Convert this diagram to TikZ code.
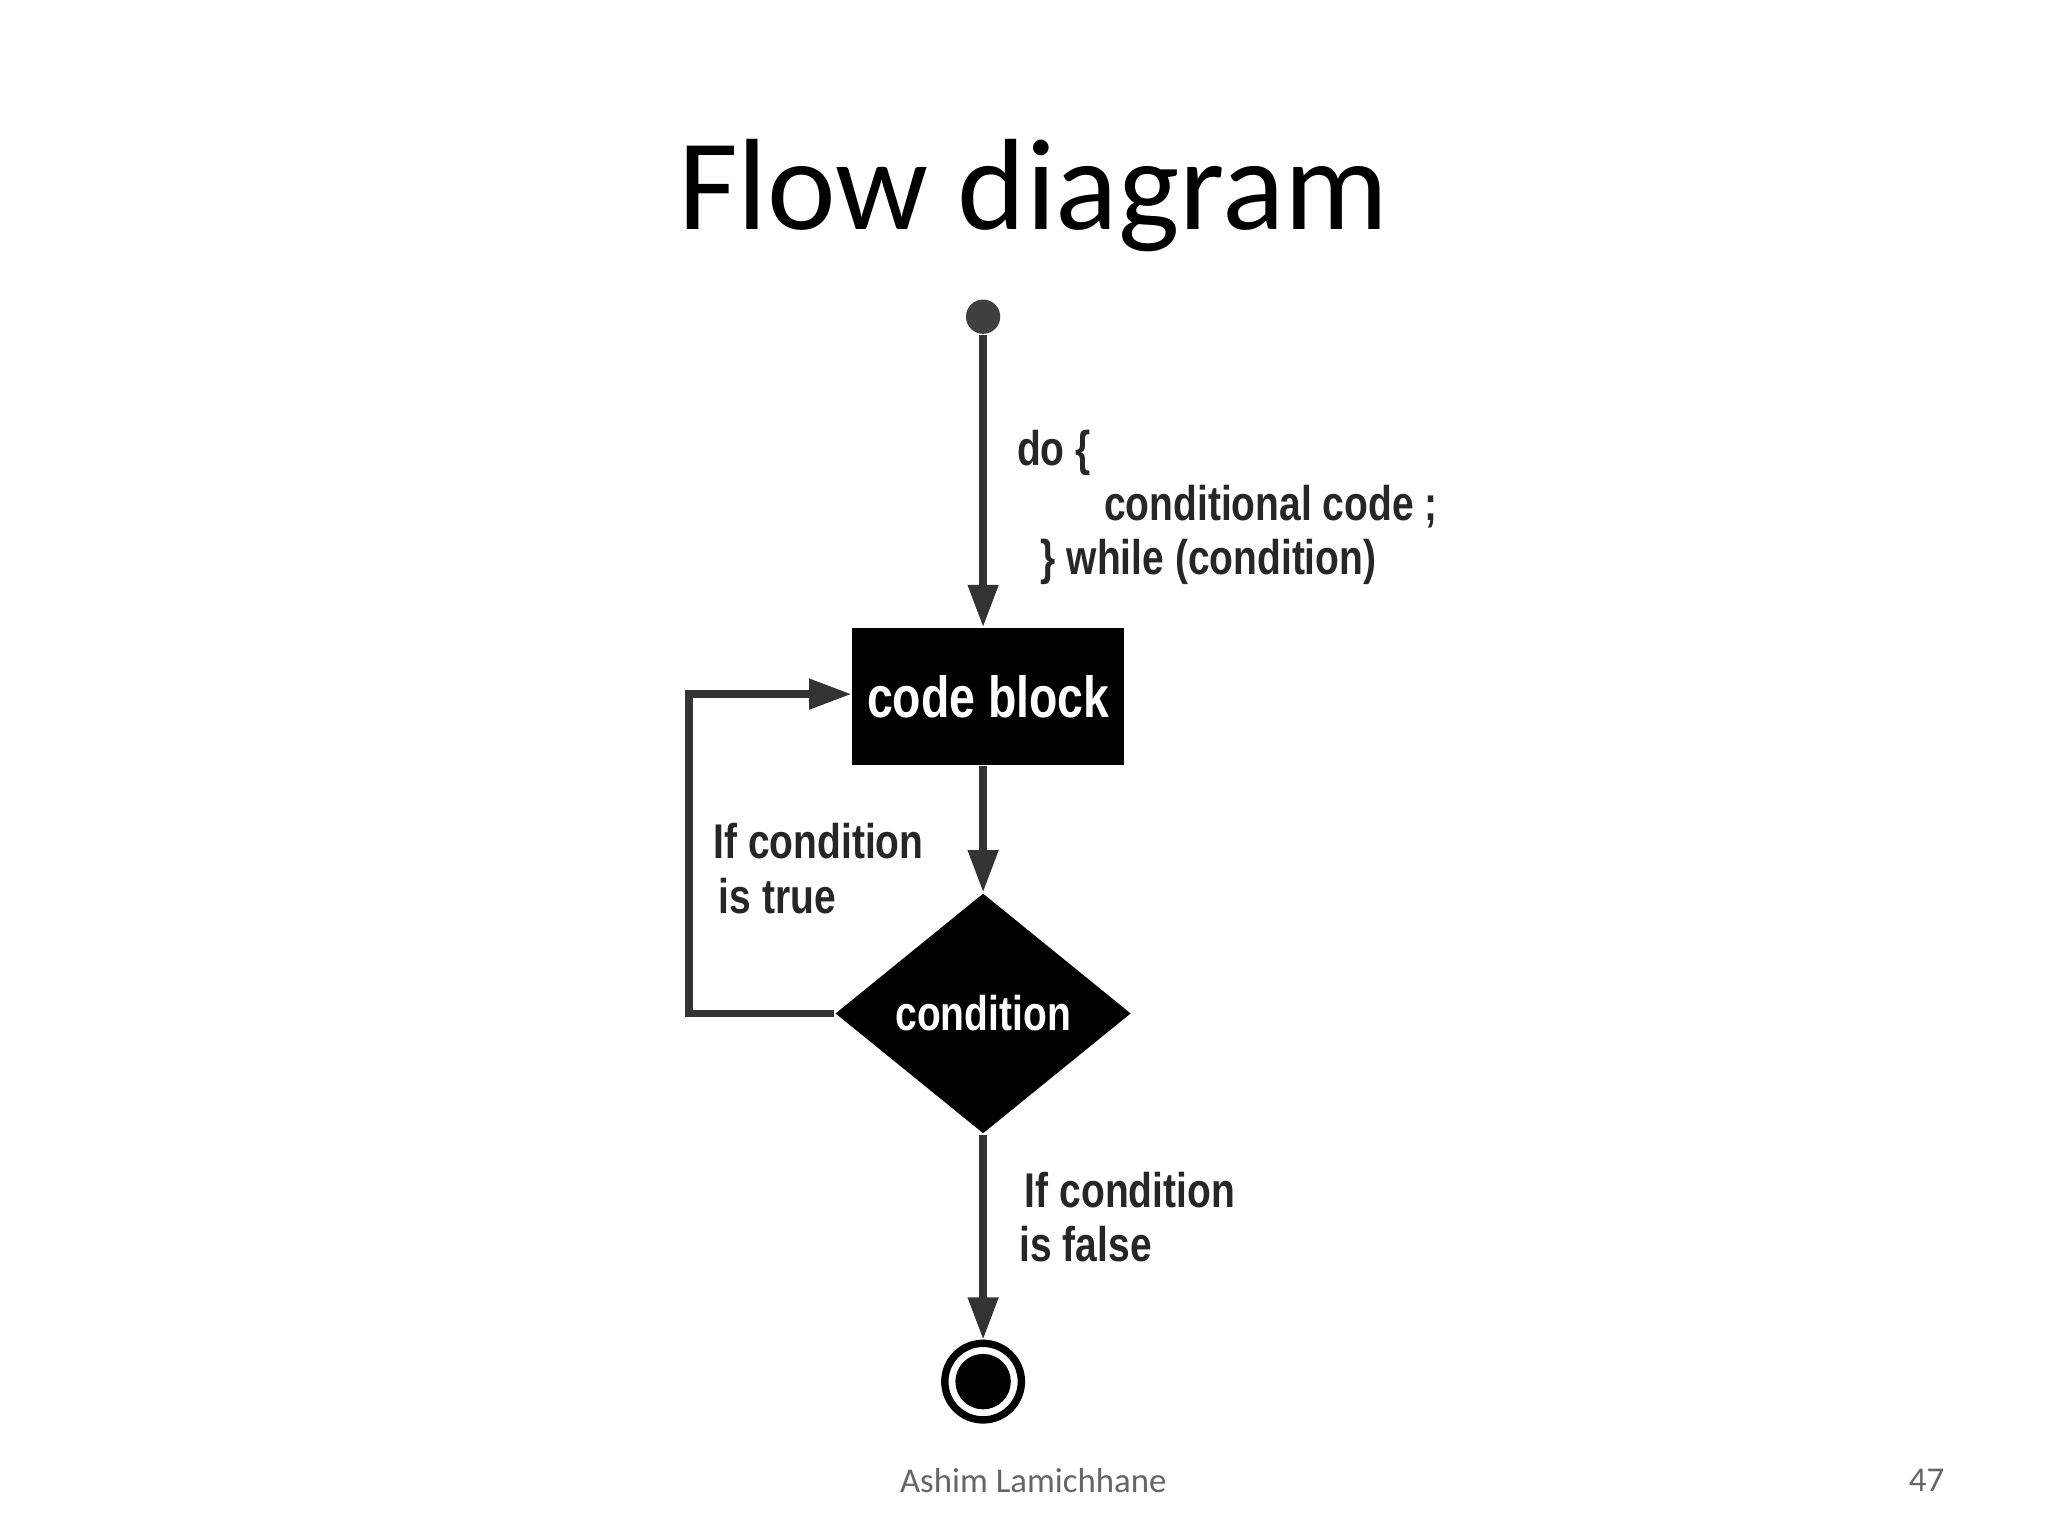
\documentclass[tikz,border=0pt]{standalone}
\usepackage{fontspec}
\setmainfont{Carlito}
\newfontfamily\lab{Liberation Sans}[FakeStretch=0.8]
\usetikzlibrary{shapes.geometric,arrows.meta}
\begin{document}
\begin{tikzpicture}[x=0.01cm,y=-0.01cm,
  flow/.style={draw=black!80,line width=1.6pt,-{Triangle[length=0.32cm,width=0.22cm]}},
  lbl/.style={anchor=west,font=\lab\bfseries\fontsize{10.5}{12}\selectfont,text=black!85,inner sep=0pt}]
\useasboundingbox (0,0) rectangle (1552,1164);
\node (title) at (783,148) {\fontsize{28}{32}\selectfont Flow diagram};
\node[circle,fill=black!75,minimum size=0.26cm,inner sep=0pt] (start) at (745,240) {};
\node[fill=black,minimum width=2.06cm,minimum height=1.04cm,inner sep=0pt,text=white,font=\lab\bfseries\fontsize{12.5}{14}\selectfont] (code) at (749,528) {code block};
\node[diamond,fill=black,minimum width=2.24cm,minimum height=1.82cm,inner sep=0pt,text=white,font=\lab\bfseries\fontsize{10.5}{12}\selectfont] (cond) at (745,768) {condition};
\node[circle,draw=black,line width=1.6pt,fill=white,minimum size=0.58cm,inner sep=0pt] (end) at (745,1047) {};
\node[circle,fill=black,minimum size=0.42cm,inner sep=0pt] (endin) at (745,1047) {};
\draw[flow] (start) -- (code.north -| start);
\draw[flow] (code.south -| cond) -- (cond.north);
\coordinate (l1) at (522,768);
\coordinate (l2) at (522,526);
\draw[flow] (cond.west) -- (l1) -- (l2) -- (code.west |- l2);
\draw[flow] (cond.south) -- (end.north);
\node[lbl] (t1) at (770,343) {do \{};
\node[lbl] (t2) at (836,384) {conditional code ;};
\node[lbl] (t3) at (788,426) {\} while (condition)};
\node[lbl] (t4) at (540,637) {If condition};
\node[lbl] (t5) at (544,679) {is true};
\node[lbl] (t6) at (776,902) {If condition};
\node[lbl] (t7) at (772,943) {is false};
\node[text=black!60,font=\fontsize{7.5}{9}\selectfont] (foot) at (783,1122) {Ashim Lamichhane};
\node[text=black!60,font=\fontsize{7.5}{9}\selectfont] (num) at (1460,1122) {47};
\end{tikzpicture}
\end{document}
